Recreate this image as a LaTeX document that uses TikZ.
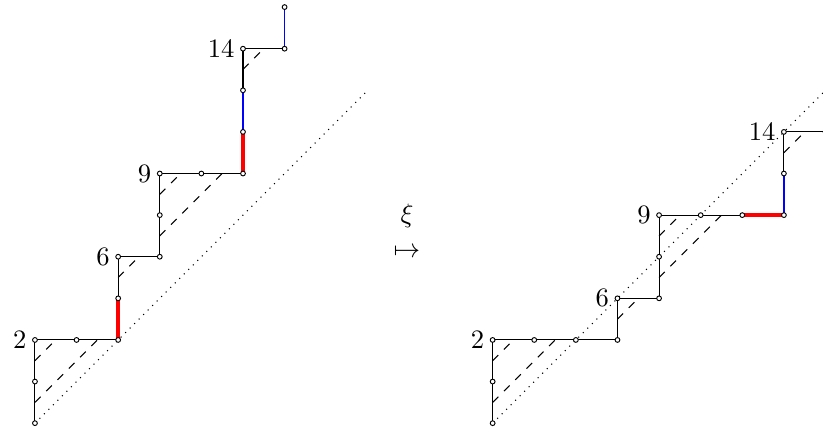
\documentclass[tikz,border=0pt]{standalone}
\usetikzlibrary{calc}
\begin{document}
\begin{tikzpicture}[x=0.55cm,y=0.55cm,
  pathline/.style={line width=0.4pt},
  redseg/.style={red,line width=1.6pt},
  blueseg/.style={blue,line width=0.6pt},
  hatch/.style={dashed,line width=0.4pt},
  diag/.style={dotted,line width=0.4pt},
  vtx/.style={circle,draw,fill=white,inner sep=0pt,minimum size=1.8pt,line width=0.35pt},
  lbl/.style={left,inner sep=3pt}]
\useasboundingbox (-0.84,-0.1) rectangle (18.94,10.17);
% left path vertices
\foreach \x/\y [count=\i from 0] in {0/0,0/1,0/2,1/2,2/2,2/3,2/4,3/4,3/5,3/6,4/6,5/6,5/7,5/8,5/9,6/9,6/10}
  \coordinate (L\i) at (\x,\y);
% right path vertices
\foreach \x/\y [count=\i from 0] in {11/0,11/1,11/2,12/2,13/2,14/2,14/3,15/3,15/4,15/5,16/5,17/5,18/5,18/6,18/7,19/7}
  \coordinate (R\i) at (\x,\y);
\coordinate (LD) at (8,8);
\coordinate (RD) at (19,8);
% diagonals
\draw[diag] (L0) -- (LD);
\draw[diag] (R0) -- (RD);
% hatching left
\draw[hatch] ($(L0)!0.5!(L1)$) -- ($(L3)!0.5!(L4)$);
\draw[hatch] ($(L1)!0.5!(L2)$) -- ($(L2)!0.5!(L3)$);
\draw[hatch] ($(L5)!0.5!(L6)$) -- ($(L6)!0.5!(L7)$);
\draw[hatch] ($(L7)!0.5!(L8)$) -- ($(L10)!0.5!(L11)$);
\draw[hatch] ($(L8)!0.5!(L9)$) -- ($(L9)!0.5!(L10)$);
\draw[hatch] ($(L13)!0.5!(L14)$) -- ($(L14)!0.5!(L15)$);
% hatching right
\draw[hatch] ($(R0)!0.5!(R1)$) -- ($(R3)!0.5!(R4)$);
\draw[hatch] ($(R1)!0.5!(R2)$) -- ($(R2)!0.5!(R3)$);
\draw[hatch] ($(R5)!0.5!(R6)$) -- ($(R6)!0.5!(R7)$);
\draw[hatch] ($(R7)!0.5!(R8)$) -- ($(R10)!0.5!(R11)$);
\draw[hatch] ($(R8)!0.5!(R9)$) -- ($(R9)!0.5!(R10)$);
\draw[hatch] ($(R13)!0.5!(R14)$) -- ($(R14)!0.5!(R15)$);
% paths
\draw[pathline] (L0)--(L1)--(L2)--(L3)--(L4)--(L5)--(L6)--(L7)--(L8)--(L9)--(L10)--(L11)--(L12)--(L13)--(L14)--(L15)--(L16);
\draw[pathline] (R0)--(R1)--(R2)--(R3)--(R4)--(R5)--(R6)--(R7)--(R8)--(R9)--(R10)--(R11)--(R12)--(R13)--(R14)--(R15);
% coloured steps
\draw[redseg] (L4) -- (L5);
\draw[redseg] (L11) -- (L12);
\draw[blueseg] (L12) -- (L13);
\draw[blueseg] (L15) -- (L16);
\draw[redseg] (R11) -- (R12);
\draw[blueseg] (R12) -- (R13);
% vertices
\foreach \i in {0,...,16} \node[vtx] (vl\i) at (L\i) {};
\foreach \i in {0,...,15} \node[vtx] (vr\i) at (R\i) {};
% labels
\node[lbl] (l2) at (L2) {2};
\node[lbl] (l6) at (L6) {6};
\node[lbl] (l9) at (L9) {9};
\node[lbl] (l14) at (L14) {14};
\node[lbl] (r2) at (R2) {2};
\node[lbl] (r6) at (R6) {6};
\node[lbl] (r9) at (R9) {9};
\node[lbl] (r14) at (R14) {14};
% map symbol
\node (xi) at (8.94,4.98) {$\xi$};
\node (mt) at (8.94,4.09) {$\mapsto$};
\end{tikzpicture}
\end{document}
